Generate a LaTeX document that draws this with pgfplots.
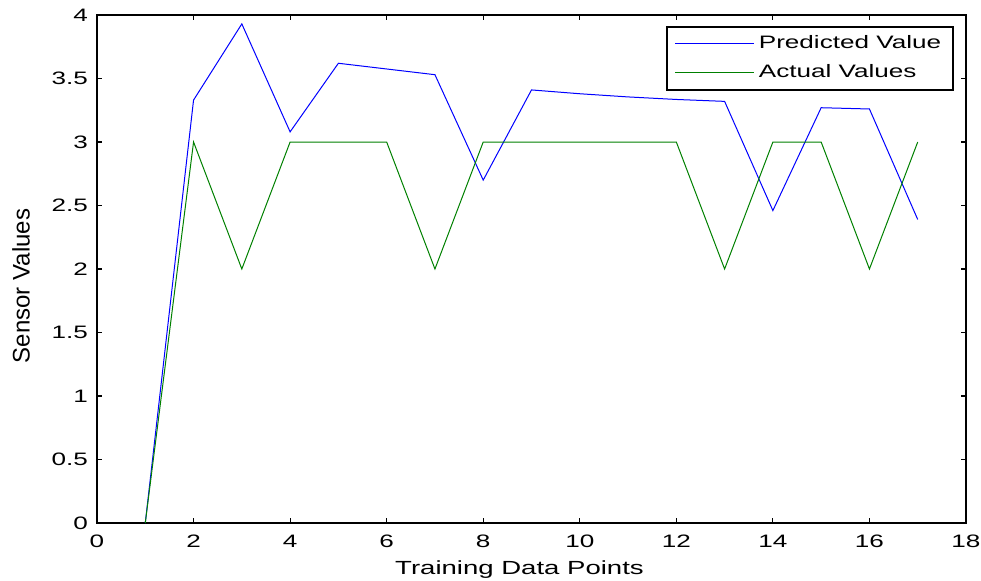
\documentclass[border=0pt]{standalone}
\usepackage{fontspec}
\setmainfont{Liberation Sans}[FakeStretch=1.45]
\newfontfamily\ylfont{Liberation Sans}
\usepackage{pgfplots}
\pgfplotsset{compat=1.18}
\begin{document}
\begin{tikzpicture}
\begin{axis}[
  scale only axis, width=434.5pt, height=254pt,
  xmin=0, xmax=18, ymin=0, ymax=4,
  xtick={0,2,...,18}, ytick={0,0.5,...,4},
  tick align=inside, ticks=both, tickpos=both,
  major tick length=2.5pt,
  axis line style={line width=0.8pt},
  every tick/.style={black, line width=0.6pt},
  /pgf/number format/assume math mode=true,
  tick label style={font=\fontsize{9}{10}\selectfont},
  xticklabel style={yshift=-2.5pt},
  yticklabel style={xshift=-1pt},
  xlabel={Training Data Points},
  ylabel={\ylfont Sensor Values},
  xlabel style={font=\fontsize{9.5}{10}\selectfont, yshift=0.5pt, xshift=-6pt},
  ylabel style={font=\fontsize{12}{13}\selectfont, yshift=4pt, xshift=-8.5pt},
  legend cell align=left,
  legend style={draw=black, line width=0.8pt,
    at={(rel axis cs:1,1)}, xshift=-6pt, yshift=-5.5pt, anchor=north east,
    inner xsep=4pt, inner ysep=2.5pt, row sep=2.5pt,
    font=\fontsize{9}{10}\selectfont,
    nodes={inner sep=2pt}},
  legend image code/.code={\draw[#1, line width=0.5pt] (0pt,0pt) -- (39.5pt,0pt);},
]
\addplot[blue, line width=0.5pt] coordinates {
(1,0) (2,3.33) (3,3.93) (4,3.08) (5,3.62) (6,3.575) (7,3.53) (8,2.70) (9,3.41)
(10,3.38) (11,3.355) (12,3.335) (13,3.32) (14,2.46) (15,3.27) (16,3.26) (17,2.39)};
\addlegendentry{Predicted Value}
\addplot[green!50!black, line width=0.5pt] coordinates {
(1,0) (2,3) (3,2) (4,3) (5,3) (6,3) (7,2) (8,3) (9,3)
(10,3) (11,3) (12,3) (13,2) (14,3) (15,3) (16,2) (17,3)};
\addlegendentry{Actual Values}
\end{axis}
\pgfresetboundingbox
\path (-48.5pt,-28.5pt) rectangle (442pt,261.5pt);
\end{tikzpicture}
\end{document}
